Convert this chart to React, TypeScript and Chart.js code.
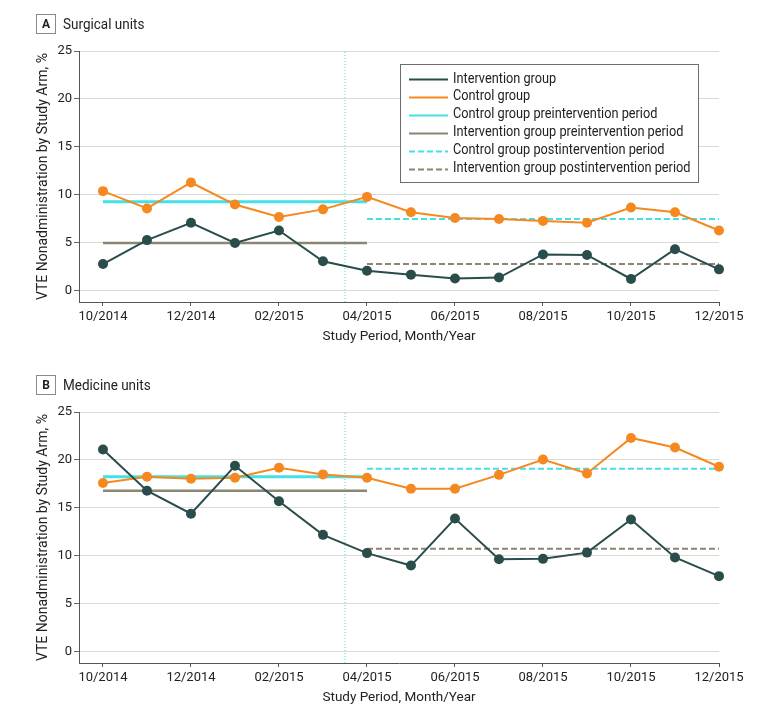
import React, { useEffect, useRef } from "react";
import { Chart, registerables } from "chart.js";

Chart.register(...registerables);

// ---------- data ----------
const months = [
  "10/2014", "11/2014", "12/2014", "01/2015", "02/2015", "03/2015", "04/2015",
  "05/2015", "06/2015", "07/2015", "08/2015", "09/2015", "10/2015", "11/2015", "12/2015",
];
const xTickIndexes = [0, 2, 4, 6, 8, 10, 12, 14];
const yTicks = [0, 5, 10, 15, 20, 25];

const surgicalIntervention = [2.8, 5.3, 7.1, 5.0, 6.3, 3.1, 2.1, 1.7, 1.3, 1.4, 3.8, 3.75, 1.25, 4.35, 2.25];
const surgicalControl = [10.4, 8.6, 11.3, 9.0, 7.7, 8.5, 9.8, 8.2, 7.6, 7.5, 7.3, 7.1, 8.7, 8.2, 6.3];
const surgicalControlPre = 9.3;
const surgicalInterventionPre = 5.0;
const surgicalControlPost = 7.5;
const surgicalInterventionPost = 2.8;

const medicineIntervention = [21.1, 16.8, 14.4, 19.4, 15.7, 12.2, 10.3, 9.0, 13.9, 9.65, 9.7, 10.35, 13.8, 9.85, 7.9];
const medicineControl = [17.6, 18.25, 18.05, 18.15, 19.2, 18.5, 18.15, 17.0, 17.0, 18.45, 20.05, 18.6, 22.3, 21.3, 19.3];
const medicineControlPre = 18.25;
const medicineInterventionPre = 16.8;
const medicineControlPost = 19.1;
const medicineInterventionPost = 10.75;

const preStart = 0;
const preEnd = 6;
const postStart = 6;
const postEnd = 14;
const interventionMarker = 5.5;

const labelIntervention = "Intervention group";
const labelControl = "Control group";
const labelControlPre = "Control group preintervention period";
const labelInterventionPre = "Intervention group preintervention period";
const labelControlPost = "Control group postintervention period";
const labelInterventionPost = "Intervention group postintervention period";

// ---------- styles ----------
const FONT = "Roboto, 'Noto Sans', sans-serif";
const TEAL = "#2a4d4c";
const ORANGE = "#f5891f";
const CYAN = "#45e0e6";
const GRAY = "#8b8673";
const TEXT = "#222222";

const insideLegend = {
  id: "insideLegend",
  afterDraw(chart: any, _args: any, opts: any) {
    if (!opts || !opts.display) return;
    const ctx = chart.ctx;
    const { left, top, width, height, firstRow, rowHeight, lineX, lineLength, textX, textScale } = opts;
    ctx.save();
    ctx.fillStyle = "#ffffff";
    ctx.fillRect(left, top, width, height);
    ctx.strokeStyle = "#6e6e6e";
    ctx.lineWidth = 1;
    ctx.strokeRect(left + 0.5, top + 0.5, width, height);
    let row = 0;
    chart.data.datasets.forEach((ds: any) => {
      if (!ds.legendLabel) return;
      const y = top + firstRow + row * rowHeight;
      ctx.beginPath();
      ctx.setLineDash(ds.borderDash || []);
      ctx.strokeStyle = ds.borderColor;
      ctx.lineWidth = 2;
      ctx.moveTo(left + lineX, Math.round(y) + 0.5);
      ctx.lineTo(left + lineX + lineLength, Math.round(y) + 0.5);
      ctx.stroke();
      ctx.setLineDash([]);
      ctx.save();
      ctx.translate(left + textX, y);
      ctx.scale(textScale, 1);
      ctx.fillStyle = TEXT;
      ctx.font = `14px ${FONT}`;
      ctx.textBaseline = "middle";
      ctx.textAlign = "left";
      ctx.fillText(ds.legendLabel, 0, 0);
      ctx.restore();
      row++;
    });
    ctx.restore();
  },
};

type PanelProps = {
  top: number;
  letter: string;
  title: string;
  intervention: number[];
  control: number[];
  controlPre: number;
  interventionPre: number;
  controlPost: number;
  interventionPost: number;
  showLegend: boolean;
};

function Panel(p: PanelProps) {
  const ref = useRef<HTMLCanvasElement | null>(null);

  useEffect(() => {
    if (!ref.current) return;
    const series = (vals: number[]) => vals.map((v, i) => ({ x: i, y: v }));
    const hline = (v: number, a: number, b: number) => [
      { x: a, y: v },
      { x: b, y: v },
    ];
    const chart = new Chart(ref.current, {
      type: "line",
      data: {
        datasets: [
          {
            legendLabel: labelIntervention,
            data: series(p.intervention),
            borderColor: TEAL,
            backgroundColor: TEAL,
            borderWidth: 2,
            pointRadius: 5,
            pointBorderWidth: 0,
            tension: 0,
            clip: false,
          },
          {
            legendLabel: labelControl,
            data: series(p.control),
            borderColor: ORANGE,
            backgroundColor: ORANGE,
            borderWidth: 2,
            pointRadius: 5,
            pointBorderWidth: 0,
            tension: 0,
            clip: false,
          },
          {
            legendLabel: labelControlPre,
            data: hline(p.controlPre, preStart, preEnd),
            borderColor: CYAN,
            borderWidth: 3,
            pointRadius: 0,
          },
          {
            legendLabel: labelInterventionPre,
            data: hline(p.interventionPre, preStart, preEnd),
            borderColor: GRAY,
            borderWidth: 2.5,
            pointRadius: 0,
          },
          {
            legendLabel: labelControlPost,
            data: hline(p.controlPost, postStart, postEnd),
            borderColor: CYAN,
            borderWidth: 2,
            borderDash: [6, 3],
            pointRadius: 0,
          },
          {
            legendLabel: labelInterventionPost,
            data: hline(p.interventionPost, postStart, postEnd),
            borderColor: GRAY,
            borderWidth: 2,
            borderDash: [6, 3],
            pointRadius: 0,
          },
          {
            data: [
              { x: interventionMarker, y: -1.15 },
              { x: interventionMarker, y: 25 },
            ],
            borderColor: CYAN,
            borderWidth: 1,
            borderDash: [1, 2],
            pointRadius: 0,
          },
        ] as any,
      },
      options: {
        responsive: false,
        animation: false,
        devicePixelRatio: 1,
        layout: { padding: { top: 51, right: 61, left: 35, bottom: 0 } },
        plugins: {
          legend: { display: false },
          tooltip: { enabled: false },
          insideLegend: {
            display: p.showLegend,
            left: 400,
            top: 64,
            width: 298,
            height: 118,
            firstRow: 15,
            rowHeight: 17.9,
            lineX: 9,
            lineLength: 39,
            textX: 53,
            textScale: 0.91,
          },
        } as any,
        scales: {
          x: {
            type: "linear",
            min: -0.545,
            max: 14,
            afterBuildTicks: (scale: any) => {
              scale.ticks = xTickIndexes.map((v) => ({ value: v }));
            },
            afterFit: (scale: any) => {
              scale.height = 52;
            },
            grid: {
              display: true,
              drawOnChartArea: false,
              drawTicks: true,
              tickLength: 4,
              tickColor: "#555555",
            },
            border: { display: true, color: "#555555", width: 1 },
            ticks: {
              color: TEXT,
              font: { family: FONT, size: 13 },
              padding: 3,
              maxRotation: 0,
              autoSkip: false,
              callback: (v: any) => months[Number(v)] ?? "",
            },
            title: {
              display: true,
              text: "Study Period, Month/Year",
              color: TEXT,
              font: { family: FONT, size: 13.5 },
              padding: 9,
            },
          },
          y: {
            type: "linear",
            min: -1.15,
            max: 25,
            afterBuildTicks: (scale: any) => {
              scale.ticks = yTicks.map((v) => ({ value: v }));
            },
            afterFit: (scale: any) => {
              scale.width = 44;
            },
            grid: {
              color: "#dadada",
              lineWidth: 1,
              drawTicks: true,
              tickLength: 5,
              tickColor: "#666666",
            },
            border: { display: true, color: "#555555", width: 1 },
            ticks: {
              color: TEXT,
              font: { family: FONT, size: 13 },
              padding: 2,
            },
            title: {
              display: true,
              text: "VTE Nonadministration by Study Arm, %",
              color: TEXT,
              font: { family: FONT, size: 14 },
              padding: 0,
            },
          },
        },
      },
      plugins: [insideLegend],
    } as any);
    return () => chart.destroy();
  }, []);

  return (
    <div style={{ position: "absolute", left: 0, top: p.top, width: 780, height: 354 }}>
      <canvas ref={ref} width={780} height={354} style={{ position: "absolute", left: 0, top: 0 }} />
      <div
        style={{
          position: "absolute",
          left: 36,
          top: 14,
          width: 18,
          height: 18,
          border: "1px solid #8a8a8a",
          boxSizing: "content-box",
          fontFamily: FONT,
          fontWeight: 700,
          fontSize: 12,
          lineHeight: "18px",
          textAlign: "center",
          color: TEXT,
        }}
      >
        {p.letter}
      </div>
      <div
        style={{
          position: "absolute",
          left: 63,
          top: 14,
          height: 20,
          lineHeight: "20px",
          fontFamily: FONT,
          fontSize: 15,
          color: TEXT,
          whiteSpace: "nowrap",
          transform: "scaleX(0.9)",
          transformOrigin: "left center",
        }}
      >
        {p.title}
      </div>
    </div>
  );
}

export default function App() {
  return (
    <div style={{ position: "absolute", left: 0, top: 0, width: 780, height: 715, background: "#ffffff", overflow: "hidden" }}>
      <Panel
        top={0}
        letter="A"
        title="Surgical units"
        intervention={surgicalIntervention}
        control={surgicalControl}
        controlPre={surgicalControlPre}
        interventionPre={surgicalInterventionPre}
        controlPost={surgicalControlPost}
        interventionPost={surgicalInterventionPost}
        showLegend={true}
      />
      <Panel
        top={361}
        letter="B"
        title="Medicine units"
        intervention={medicineIntervention}
        control={medicineControl}
        controlPre={medicineControlPre}
        interventionPre={medicineInterventionPre}
        controlPost={medicineControlPost}
        interventionPost={medicineInterventionPost}
        showLegend={false}
      />
    </div>
  );
}
